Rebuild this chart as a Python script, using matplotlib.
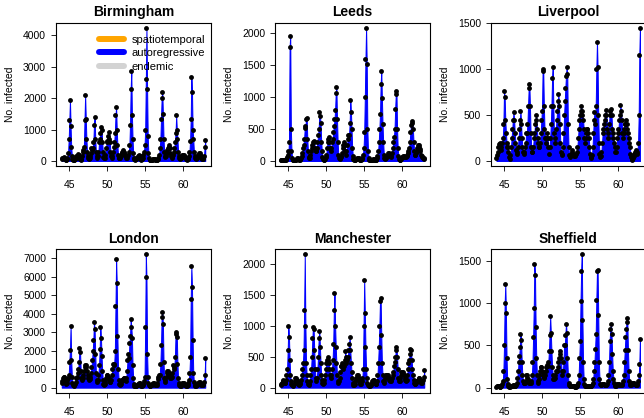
import matplotlib
matplotlib.use('Agg')
import matplotlib.pyplot as plt
import numpy as np
from matplotlib.lines import Line2D

plt.rcParams['font.family'] = ['Liberation Sans', 'DejaVu Sans']

# monthly counts, Jan 1944 .. Dec 1962 (one row per year)
start_year = 44
names = ['Birmingham', 'Leeds', 'Liverpool', 'London', 'Manchester', 'Sheffield']

birmingham = [
    60, 80, 100, 120, 90, 50, 30, 30, 50, 100, 250, 700,
    1300, 1950, 1100, 450, 150, 60, 30, 20, 30, 50, 80, 150,
    150, 200, 220, 180, 100, 60, 40, 60, 150, 300, 350, 450,
    1300, 2100, 1350, 700, 300, 150, 80, 60, 80, 150, 250, 400,
    350, 400, 600, 1150, 1400, 700, 300, 150, 100, 150, 300, 600,
    700, 900, 1070, 1000, 600, 300, 120, 80, 100, 200, 400, 600,
    650, 800, 700, 930, 600, 300, 150, 100, 150, 300, 450, 600,
    900, 1450, 1720, 1000, 500, 200, 100, 80, 100, 150, 200, 250,
    300, 350, 300, 250, 200, 150, 100, 100, 150, 200, 300, 500,
    1150, 2300, 2850, 1450, 700, 250, 100, 50, 40, 50, 80, 100,
    120, 150, 200, 150, 100, 60, 40, 50, 100, 200, 300, 500,
    1000, 2600, 4230, 2300, 800, 250, 80, 30, 20, 20, 30, 40,
    50, 60, 60, 50, 40, 30, 30, 40, 60, 100, 200, 400,
    700, 1350, 2000, 2200, 1500, 700, 300, 150, 120, 150, 250, 350,
    400, 450, 500, 400, 250, 150, 100, 120, 200, 300, 400, 600,
    900, 1450, 1000, 700, 300, 150, 80, 60, 80, 100, 150, 180,
    200, 180, 150, 120, 80, 50, 40, 50, 80, 150, 300, 650,
    1350, 2680, 2200, 1000, 700, 300, 150, 80, 60, 80, 100, 150,
    200, 250, 250, 200, 150, 100, 60, 60, 100, 150, 450, 660,
]

leeds = [
    10, 15, 20, 20, 15, 10, 10, 10, 15, 30, 60, 150,
    100, 300, 1780, 1960, 500, 150, 50, 20, 10, 10, 15, 20,
    20, 30, 40, 40, 30, 20, 20, 30, 50, 80, 120, 200,
    250, 350, 520, 550, 650, 680, 350, 150, 60, 40, 50, 100,
    150, 200, 250, 300, 320, 300, 200, 150, 150, 200, 300, 400,
    500, 760, 700, 600, 300, 150, 60, 30, 20, 20, 30, 60,
    100, 200, 300, 350, 380, 300, 200, 150, 200, 300, 350, 450,
    550, 650, 800, 1070, 1150, 650, 300, 100, 40, 30, 40, 60,
    80, 120, 200, 250, 300, 250, 150, 100, 150, 250, 350, 400,
    400, 600, 950, 770, 500, 200, 80, 30, 20, 20, 20, 30,
    30, 40, 40, 40, 30, 20, 20, 20, 30, 50, 100, 200,
    450, 1000, 1600, 2080, 1520, 500, 150, 50, 20, 10, 10, 15,
    20, 20, 25, 25, 20, 15, 15, 20, 40, 80, 150, 300,
    500, 730, 1200, 1400, 980, 580, 300, 100, 40, 30, 40, 60,
    80, 100, 120, 120, 100, 80, 60, 80, 120, 200, 300, 380,
    500, 820, 1050, 1100, 500, 200, 80, 30, 20, 20, 30, 50,
    60, 70, 80, 80, 70, 60, 60, 80, 100, 120, 150, 200,
    300, 460, 560, 600, 630, 500, 300, 150, 100, 100, 120, 150,
    200, 250, 250, 220, 180, 150, 100, 80, 60, 50, 40, 30,
]

liverpool = [
    30, 60, 100, 150, 180, 200, 150, 120, 150, 200, 250, 400,
    760, 700, 450, 300, 200, 150, 150, 100, 40, 20, 60, 150,
    250, 350, 450, 530, 450, 300, 200, 120, 80, 100, 150, 250,
    350, 450, 550, 400, 250, 150, 100, 80, 100, 150, 200, 300,
    300, 400, 600, 800, 840, 600, 300, 150, 100, 100, 150, 250,
    300, 400, 450, 500, 350, 250, 200, 150, 150, 200, 300, 450,
    550, 980, 1000, 600, 350, 250, 200, 250, 300, 250, 150, 80,
    150, 250, 400, 600, 900, 1020, 600, 300, 200, 250, 350, 450,
    550, 650, 730, 600, 400, 200, 100, 60, 80, 150, 300, 500,
    650, 800, 930, 1030, 950, 400, 150, 60, 40, 50, 80, 120,
    100, 80, 60, 50, 50, 60, 80, 100, 150, 250, 350, 450,
    500, 550, 600, 550, 500, 450, 350, 250, 200, 250, 300, 350,
    350, 300, 250, 150, 80, 40, 30, 60, 150, 300, 450, 530,
    400, 600, 1000, 1300, 1020, 500, 200, 80, 40, 50, 100, 200,
    300, 350, 400, 450, 500, 560, 500, 350, 250, 300, 400, 500,
    550, 570, 500, 350, 300, 250, 200, 150, 100, 100, 150, 250,
    300, 350, 450, 500, 610, 550, 450, 300, 250, 300, 350, 400,
    400, 450, 400, 350, 300, 250, 200, 150, 80, 40, 20, 15,
    30, 50, 80, 100, 120, 100, 80, 100, 200, 500, 1160, 1450,
]

london = [
    250, 350, 500, 600, 550, 400, 250, 200, 250, 400, 500, 700,
    1400, 2050, 3350, 1500, 600, 250, 150, 100, 120, 200, 300, 500,
    600, 800, 1000, 1400, 2150, 1900, 900, 500, 400, 500, 700, 900,
    1100, 1200, 1200, 1100, 900, 700, 500, 400, 450, 600, 800, 1100,
    1500, 2000, 2600, 3550, 3150, 1800, 800, 400, 300, 400, 700, 1200,
    2100, 3300, 2700, 1700, 900, 400, 200, 150, 200, 300, 500, 700,
    700, 600, 500, 400, 300, 300, 400, 700, 1000, 1300, 1250, 1300,
    2000, 4400, 6950, 5650, 2800, 1000, 400, 200, 150, 200, 300, 400,
    400, 450, 500, 500, 400, 350, 500, 900, 1500, 1800, 1600, 2400,
    2800, 3700, 3300, 2700, 1200, 500, 200, 100, 80, 80, 100, 150,
    150, 200, 250, 250, 200, 150, 100, 100, 150, 200, 350, 600,
    3250, 7200, 5950, 1800, 600, 250, 150, 100, 100, 120, 150, 200,
    200, 250, 250, 200, 150, 120, 150, 250, 450, 600, 700, 700,
    1300, 2300, 3800, 4100, 3450, 1400, 500, 300, 400, 600, 800, 900,
    900, 800, 700, 600, 500, 500, 600, 800, 1200, 1000, 1100, 1650,
    2900, 3000, 2750, 1300, 500, 250, 150, 100, 100, 150, 200, 250,
    250, 250, 200, 150, 120, 100, 100, 150, 250, 400, 800, 1650,
    4800, 6550, 5450, 2600, 800, 300, 150, 100, 100, 120, 150, 200,
    250, 300, 300, 250, 200, 150, 120, 150, 200, 300, 700, 1600,
]

manchester = [
    40, 60, 80, 100, 120, 100, 80, 80, 120, 200, 300, 600,
    1000, 820, 450, 200, 100, 60, 40, 30, 40, 60, 100, 150,
    150, 120, 100, 80, 60, 50, 60, 80, 120, 200, 300, 400,
    600, 1250, 2150, 1000, 400, 200, 100, 60, 50, 60, 100, 200,
    300, 500, 800, 980, 950, 600, 300, 150, 100, 150, 300, 500,
    800, 920, 650, 400, 200, 120, 80, 60, 80, 120, 200, 300,
    400, 450, 500, 450, 400, 300, 200, 150, 200, 300, 450, 700,
    1250, 1530, 1000, 650, 400, 200, 100, 80, 100, 150, 250, 350,
    350, 400, 350, 300, 350, 450, 590, 500, 400, 450, 500, 600,
    700, 820, 600, 400, 250, 150, 80, 50, 50, 60, 100, 150,
    150, 200, 200, 150, 100, 80, 60, 60, 100, 150, 300, 1000,
    1740, 1200, 650, 300, 150, 80, 50, 40, 30, 30, 40, 60,
    80, 100, 120, 120, 100, 80, 60, 60, 100, 200, 400, 650,
    1000, 1400, 1440, 850, 400, 200, 100, 80, 100, 150, 200, 200,
    200, 200, 180, 150, 120, 100, 100, 120, 150, 200, 250, 350,
    420, 500, 600, 650, 500, 300, 150, 100, 100, 150, 200, 250,
    250, 250, 220, 200, 150, 120, 100, 120, 200, 300, 400, 450,
    550, 630, 600, 450, 300, 200, 120, 80, 60, 60, 80, 100,
    100, 120, 150, 150, 120, 100, 80, 80, 100, 120, 180, 280,
]

sheffield = [
    10, 15, 20, 20, 15, 10, 10, 15, 20, 40, 80, 200,
    500, 1000, 1230, 880, 350, 100, 40, 20, 10, 10, 15, 20,
    20, 25, 30, 30, 25, 20, 20, 30, 60, 120, 200, 300,
    380, 480, 640, 560, 300, 150, 80, 50, 50, 60, 80, 150,
    150, 120, 100, 80, 60, 50, 50, 80, 150, 300, 600, 940,
    1460, 1330, 720, 350, 150, 80, 60, 100, 150, 200, 250, 250,
    200, 180, 150, 130, 120, 150, 200, 250, 270, 260, 300, 430,
    630, 850, 650, 430, 250, 150, 100, 100, 120, 150, 200, 200,
    200, 250, 300, 350, 400, 440, 350, 200, 150, 200, 300, 500,
    500, 620, 760, 650, 350, 150, 60, 30, 20, 15, 15, 20,
    15, 15, 15, 15, 10, 10, 10, 15, 30, 60, 150, 350,
    550, 1030, 1380, 1580, 800, 300, 100, 40, 20, 15, 15, 20,
    20, 20, 25, 25, 20, 20, 20, 30, 50, 100, 200, 300,
    460, 640, 1040, 1380, 1400, 860, 300, 100, 40, 30, 30, 40,
    40, 40, 40, 30, 30, 30, 30, 40, 80, 150, 300, 550,
    700, 760, 640, 400, 200, 100, 50, 30, 20, 20, 30, 40,
    40, 40, 40, 35, 30, 30, 30, 40, 80, 150, 300, 450,
    600, 700, 820, 780, 450, 200, 80, 40, 30, 30, 40, 50,
    50, 50, 40, 40, 30, 30, 30, 40, 80, 150, 280, 580,
]

series = [birmingham, leeds, liverpool, london, manchester, sheffield]
yticks = [[0, 1000, 2000, 3000, 4000],
          [0, 500, 1000, 1500, 2000],
          [0, 500, 1000, 1500],
          [0, 1000, 2000, 3000, 4000, 5000, 6000, 7000],
          [0, 500, 1000, 1500, 2000],
          [0, 500, 1000, 1500]]
xticks = [45, 50, 55, 60]

W, H = 644, 418
fig = plt.figure(figsize=(W / 100, H / 100), dpi=100)
lefts = [56, 275, 490.7]
tops = [22.7, 249]
heights = [143.6, 144]
bw = 155

for i, (name, vals) in enumerate(zip(names, series)):
    r, c = divmod(i, 3)
    ax = fig.add_axes([lefts[c] / W, 1 - (tops[r] + heights[r]) / H, bw / W, heights[r] / H])
    y = np.array(vals, dtype=float)
    t = start_year + np.arange(len(y)) / 12.0
    ax.fill_between(t, 0, y, color='blue', lw=0.7)
    ax.plot(t, y, 'o', color='black', ms=3.5, mew=0)
    span = t[-1] - t[0]
    ax.set_xlim(t[0] - 0.04 * span, t[-1] + 0.04 * span)
    m = y.max()
    ax.set_ylim(-0.04 * m, 1.04 * m)
    ax.set_xticks(xticks)
    ax.set_yticks(yticks[i])
    ax.tick_params(direction='out', length=3.6, width=0.6, labelsize=7.5)
    ax.tick_params(axis='x', pad=6.5)
    ax.tick_params(axis='y', pad=3.5)
    for s in ax.spines.values():
        s.set_linewidth(0.8)
    ax.set_title(name, fontsize=10, fontweight='bold', pad=4.5)
    ax.set_ylabel('No. infected', fontsize=7.5)
    ax.yaxis.set_label_coords(-0.265, 0.5)
    if i == 0:
        handles = [Line2D([], [], color='orange', lw=4.3, solid_capstyle='round'),
                   Line2D([], [], color='blue', lw=4.3, solid_capstyle='round'),
                   Line2D([], [], color='lightgrey', lw=4.3, solid_capstyle='round')]
        ax.legend(handles, ['spatiotemporal', 'autoregressive', 'endemic'],
                  loc='upper left', bbox_to_anchor=(0.28, 0.915), frameon=False,
                  fontsize=8, handlelength=2.25, handletextpad=0.63,
                  labelspacing=0.3, borderpad=0, borderaxespad=0)

fig.savefig('out.png', dpi=100)
